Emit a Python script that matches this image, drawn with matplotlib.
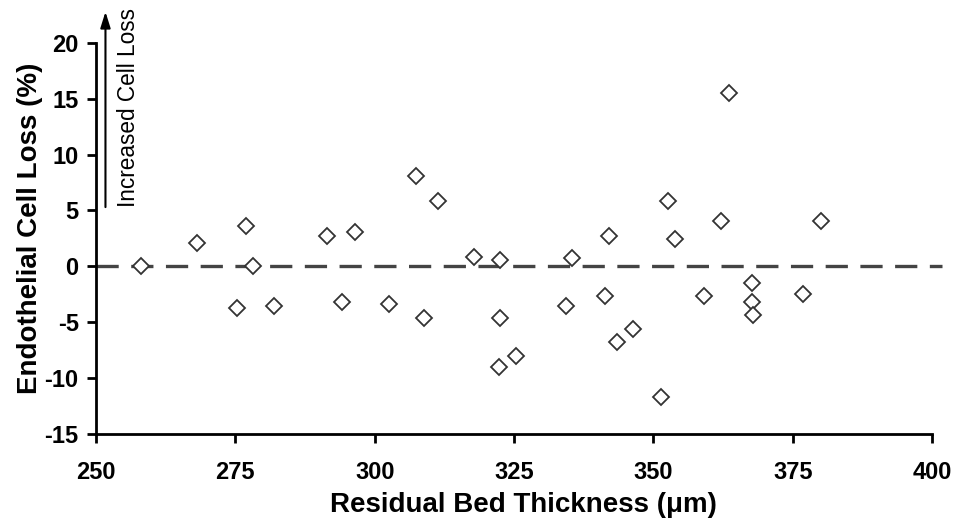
import matplotlib
matplotlib.use("Agg")
import matplotlib.pyplot as plt

# datos
grosor_um = [258.0, 268.1, 276.9, 275.3, 278.2, 281.9, 291.4, 294.1, 296.4, 302.5,
             307.5, 308.8, 311.4, 317.8, 322.5, 322.5, 322.3, 325.3, 334.4, 335.4,
             342.0, 341.4, 343.5, 346.3, 351.3, 352.6, 353.8, 359.1, 362.1, 363.5,
             367.7, 367.7, 367.8, 376.9, 380.1]
perdida_pct = [0.0, 2.1, 3.6, -3.7, 0.0, -3.6, 2.7, -3.2, 3.1, -3.4,
               8.1, -4.6, 5.85, 0.8, 0.6, -4.6, -9.0, -8.0, -3.6, 0.7,
               2.7, -2.7, -6.8, -5.6, -11.7, 5.85, 2.4, -2.7, 4.05, 15.5,
               -1.5, -3.2, -4.4, -2.5, 4.1]
xticks = [250, 275, 300, 325, 350, 375, 400]
yticks = [-15, -10, -5, 0, 5, 10, 15, 20]

plt.rcParams['font.family'] = ['Liberation Sans', 'DejaVu Sans']
plt.rcParams['lines.scale_dashes'] = False
plt.rcParams['axes.unicode_minus'] = False

fig = plt.figure(figsize=(9.58, 5.27), dpi=100)
ax = fig.add_axes([0.1002, 0.177, 0.8727, 0.7414])

# linea de referencia en cero
ax.plot([250, 401.7], [0, 0], color='#444444', linewidth=2.4,
        dashes=(16, 9), clip_on=False, zorder=1)

ax.plot(grosor_um, perdida_pct, linestyle='none', marker='D', markersize=7.9,
        markerfacecolor='white', markeredgecolor='#333333', markeredgewidth=1.3,
        clip_on=False, zorder=3)

ax.set_xlim(250, 400)
ax.set_ylim(-15, 20)
ax.set_xticks(xticks)
ax.set_yticks(yticks)

for lado in ['top', 'right']:
    ax.spines[lado].set_visible(False)
for lado in ['left', 'bottom']:
    ax.spines[lado].set_linewidth(2)

ax.tick_params(axis='both', direction='out', length=6.5, width=2, labelsize=17)
ax.tick_params(axis='x', pad=13)
ax.tick_params(axis='y', pad=6)
for t in ax.get_xticklabels() + ax.get_yticklabels():
    t.set_fontweight('bold')

ax.set_xlabel('Residual Bed Thickness (\u03bcm)', fontsize=20, fontweight='bold')
ax.xaxis.set_label_coords(0.511, -0.148)
ax.set_ylabel('Endothelial Cell Loss (%)', fontsize=20, fontweight='bold')
ax.yaxis.set_label_coords(-0.063, 0.525)

# flecha "Increased Cell Loss"
ax.annotate('', xy=(251.7, 22.8), xytext=(251.7, 5.3),
            arrowprops=dict(arrowstyle='-|>,head_length=0.8,head_width=0.25',
                            mutation_scale=12, lw=1.5, color='black',
                            shrinkA=0, shrinkB=0),
            annotation_clip=False)
ax.text(255.9, 5.3, 'Increased Cell Loss', rotation=90, ha='center', va='bottom',
        fontsize=16.3, clip_on=False)

plt.savefig('out.png', dpi=100)
plt.close('all')
